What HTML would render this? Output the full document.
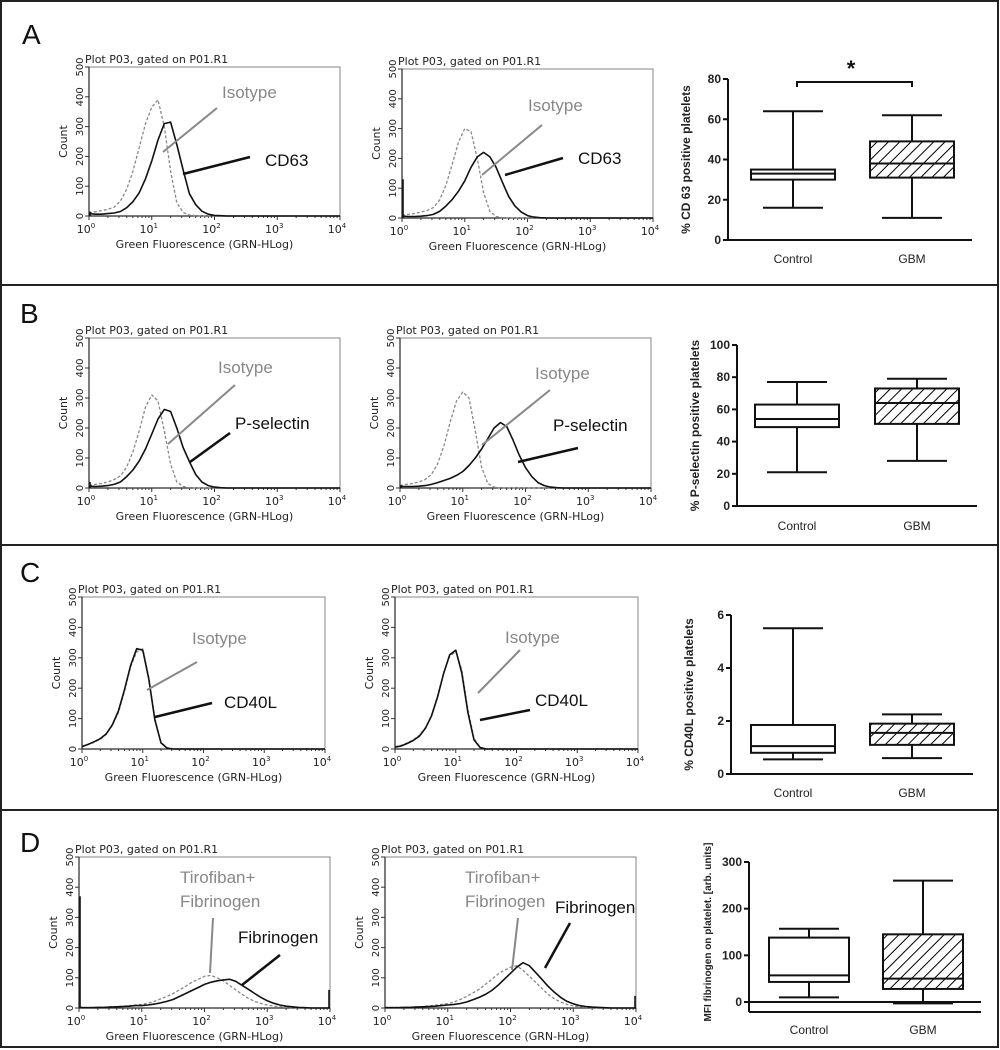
<!DOCTYPE html>
<html><head><meta charset="utf-8"><style>
html,body{margin:0;padding:0;background:#fff;}
svg{display:block;}
text{font-family:"Liberation Sans",sans-serif;}
.dv{font-family:"DejaVu Sans","Liberation Sans",sans-serif;}
</style></head><body>
<svg id="fig" width="1000" height="1050" viewBox="0 0 1000 1050" xmlns="http://www.w3.org/2000/svg">
<defs>
<pattern id="hatch" patternUnits="userSpaceOnUse" width="8" height="8" patternTransform="rotate(45)">
<line x1="0" y1="0" x2="0" y2="8" stroke="#000" stroke-width="2"/>
</pattern>
</defs>
<g fill="none" stroke="#222" stroke-width="2">
<rect x="1" y="1" width="997" height="1046"/>
<line x1="1" y1="285" x2="998" y2="285"/>
<line x1="1" y1="545" x2="998" y2="545"/>
<line x1="1" y1="810" x2="998" y2="810"/>
</g>
<g font-size="28" fill="#111">
<text x="22" y="44">A</text>
<text x="20" y="323">B</text>
<text x="20" y="582">C</text>
<text x="20" y="852">D</text>
</g>
<g id="layer"></g>
<g font-size="17">
<text x="222" y="98" fill="#888">Isotype</text>
<line x1="217" y1="108" x2="163" y2="152" stroke="#888" stroke-width="2"/>
<text x="265" y="166" fill="#111">CD63</text>
<line x1="250" y1="157" x2="183" y2="174" stroke="#111" stroke-width="2.5"/>
<text x="528" y="111" fill="#888">Isotype</text>
<line x1="542" y1="125" x2="482" y2="175" stroke="#888" stroke-width="2"/>
<text x="578" y="164" fill="#111">CD63</text>
<line x1="563" y1="158" x2="505" y2="175" stroke="#111" stroke-width="2.5"/>
<text x="218" y="373" fill="#888">Isotype</text>
<line x1="235" y1="385" x2="168" y2="444" stroke="#888" stroke-width="2"/>
<text x="235" y="429" fill="#111">P-selectin</text>
<line x1="230" y1="433" x2="190" y2="462" stroke="#111" stroke-width="2.5"/>
<text x="535" y="379" fill="#888">Isotype</text>
<line x1="550" y1="390" x2="482" y2="445" stroke="#888" stroke-width="2"/>
<text x="553" y="431" fill="#111">P-selectin</text>
<line x1="578" y1="448" x2="518" y2="462" stroke="#111" stroke-width="2.5"/>
<text x="192" y="644" fill="#888">Isotype</text>
<line x1="197" y1="662" x2="147" y2="690" stroke="#888" stroke-width="2"/>
<text x="224" y="708" fill="#111">CD40L</text>
<line x1="212" y1="703" x2="155" y2="717" stroke="#111" stroke-width="2.5"/>
<text x="505" y="643" fill="#888">Isotype</text>
<line x1="520" y1="650" x2="478" y2="693" stroke="#888" stroke-width="2"/>
<text x="535" y="706" fill="#111">CD40L</text>
<line x1="530" y1="710" x2="480" y2="720" stroke="#111" stroke-width="2.5"/>
<text x="180" y="883" fill="#888">Tirofiban+</text>
<text x="180" y="907" fill="#888">Fibrinogen</text>
<line x1="213" y1="918" x2="210" y2="973" stroke="#888" stroke-width="2"/>
<text x="238" y="943" fill="#111">Fibrinogen</text>
<line x1="280" y1="955" x2="242" y2="985" stroke="#111" stroke-width="2.5"/>
<text x="465" y="883" fill="#888">Tirofiban+</text>
<text x="465" y="907" fill="#888">Fibrinogen</text>
<line x1="518" y1="918" x2="512" y2="970" stroke="#888" stroke-width="2"/>
<text x="555" y="913" fill="#111">Fibrinogen</text>
<line x1="570" y1="923" x2="545" y2="968" stroke="#111" stroke-width="2.5"/>
</g>
</svg>
<script>
// Histogram counts sampled every 0.1 decade starting at 10^0
const A1iso=[10,14,18,22,30,50,90,150,230,310,365,390,300,150,45,12,3,1,0];
const A1pos=[8,6,6,8,10,15,28,48,78,125,185,255,310,315,240,155,75,38,16,6,2,1,0];
const A2iso=[10,12,15,20,25,35,60,110,180,255,300,290,200,85,22,5,1,0];
const A2pos=[6,5,5,6,8,12,22,40,62,90,125,170,205,220,205,170,120,72,40,20,8,3,1,0];
const B1iso=[8,12,15,20,28,40,70,120,190,270,310,290,190,80,20,5,1,0];
const B1pos=[6,5,6,8,12,20,38,60,90,130,180,230,262,255,200,135,88,45,20,8,3,1,0];
const B2iso=[8,12,15,20,28,45,80,140,220,290,320,300,190,70,15,3,0];
const B2pos=[5,5,5,6,8,12,18,25,32,42,55,75,100,130,165,200,218,205,160,110,68,38,18,8,3,1,0];
const C1iso=[10,14,22,32,48,78,120,190,270,320,330,235,100,22,4,0];
const C1pos=[8,15,24,34,50,80,125,195,275,330,325,230,95,20,3,0];
const C2iso=[8,12,20,30,45,70,110,175,250,305,320,260,130,35,6,0];
const C2pos=[6,10,18,28,42,68,108,170,248,310,325,250,120,30,5,0];
const D1iso=[2,2,2,2,3,4,5,6,8,10,12,16,22,30,38,48,60,72,85,95,105,108,100,90,75,60,45,32,22,15,10,6,4,2,1,1,0];
const D1pos=[2,1,1,2,2,3,4,5,6,8,8,10,13,17,22,28,38,48,58,68,78,85,90,93,95,88,75,62,48,35,24,16,10,6,4,2,1,0];
const D2iso=[2,2,2,2,3,4,5,7,9,12,15,20,28,38,50,62,78,95,112,125,135,140,125,105,85,65,45,30,20,12,7,4,2,1,0];
const D2pos=[1,1,1,2,2,3,4,5,6,8,10,12,15,20,27,35,45,58,75,95,115,135,150,140,118,95,72,52,35,22,14,8,5,3,2,1,0];
// edge spikes [count at 10^0, count at 10^4]
const A1spikes=[15,0], A2spikes=[130,0], B1spikes=[20,0], B2spikes=[10,0];
const C1spikes=[0,0], C2spikes=[0,0], D1spikes=[370,60], D2spikes=[0,40];
const countTicks=[0,100,200,300,400,500];
const decadeTicks=["0","1","2","3","4"];
// Box plots: [min, q1, median, q3, max]
const categories=["Control","GBM"];
const boxA_control=[16,30,33,35,64], boxA_gbm=[11,31,38,49,62];
const boxB_control=[21,49,54,63,77], boxB_gbm=[28,51,64,73,79];
const boxC_control=[0.55,0.8,1.05,1.85,5.5], boxC_gbm=[0.6,1.1,1.55,1.9,2.25];
const boxD_control=[10,43,57,138,157], boxD_gbm=[-3,28,50,145,260];
const ticksA=[0,20,40,60,80], ticksB=[0,20,40,60,80,100], ticksC=[0,2,4,6], ticksD=[0,100,200,300];

const NS="http://www.w3.org/2000/svg";
const layer=document.getElementById('layer');
function el(tag,attrs,parent){const e=document.createElementNS(NS,tag);for(const k in attrs)e.setAttribute(k,attrs[k]);(parent||layer).appendChild(e);return e;}

function hist(f,iso,pos,spikes,name){
  const g=el('g',{});
  
  
  const xs=l=>f.x0+(f.x1-f.x0)*l/4, ys=c=>f.y1-(f.y1-f.y0)*c/500;
  el('rect',{x:f.x0,y:f.y0,width:f.x1-f.x0,height:f.y1-f.y0,fill:'none',stroke:'#999','stroke-width':1.2},g);
  el('line',{x1:f.x0,y1:f.y0,x2:f.x0,y2:f.y1,stroke:'#333','stroke-width':1.2},g);
  el('line',{x1:f.x0,y1:f.y1,x2:f.x1,y2:f.y1,stroke:'#333','stroke-width':1.2},g);
  const t=el('text',{x:f.x0-4,y:f.y0-4,'font-size':11,class:'dv',fill:'#222'},g);t.textContent='Plot P03, gated on P01.R1';
  
  
  countTicks.forEach(c=>{const y=ys(c);
    el('line',{x1:f.x0-4,y1:y,x2:f.x0,y2:y,stroke:'#333'},g);
    const tt=el('text',{x:f.x0-6,y:y,'font-size':10,class:'dv',fill:'#222','text-anchor':'middle',transform:`rotate(-90 ${f.x0-6} ${y})`},g);tt.textContent=c;
    
    
  });
  const yl=el('text',{x:f.x0-22,y:(f.y0+f.y1)/2,'font-size':11,class:'dv',fill:'#222','text-anchor':'middle',transform:`rotate(-90 ${f.x0-22} ${(f.y0+f.y1)/2})`},g);yl.textContent='Count';
  
  
  for(let d=0;d<4;d++)for(let m=2;m<10;m++){const x=xs(d+Math.log10(m));el('line',{x1:x,y1:f.y1,x2:x,y2:f.y1+2,stroke:'#333'},g);}
  decadeTicks.forEach((s,i)=>{const x=xs(i);
    el('line',{x1:x,y1:f.y1,x2:x,y2:f.y1+4,stroke:'#333'},g);
    const tt=el('text',{x:x-3,y:f.y1+17,'font-size':11,class:'dv',fill:'#222','text-anchor':'middle'},g);
    tt.innerHTML='10<tspan font-size="7" dy="-5">'+s+'</tspan>';
    
    
  });
  const xl=el('text',{x:(f.x0+f.x1)/2-10,y:f.y1+32,'font-size':11,class:'dv',fill:'#222','text-anchor':'middle'},g);xl.textContent='Green Fluorescence (GRN-HLog)';
  
  
  function path(arr,color,dash,w,nm){
    let d='';for(let i=0;i<=40;i++){const v=i<arr.length?arr[i]:0;d+=(i?'L':'M')+xs(i/10).toFixed(1)+','+ys(v).toFixed(1);}
    const p=el('path',{d:d,fill:'none',stroke:color,'stroke-width':w,'stroke-dasharray':dash,'stroke-linejoin':'round'},g);
    
    
  }
  path(iso,'#888','3,2',1.3,'isotype-curve');
  path(pos,'#111','none',1.6,'marker-curve');
  [0,4].forEach((l,i)=>{if(spikes[i]>0){
    const s=el('line',{x1:xs(l)+(i?-1:1),y1:f.y1,x2:xs(l)+(i?-1:1),y2:ys(spikes[i]),stroke:'#111','stroke-width':1.6},g);
    
    
  }});
}
hist({x0:89,x1:340,y0:67,y1:216},A1iso,A1pos,A1spikes,'histogram-a-control');
hist({x0:402,x1:653,y0:69,y1:218},A2iso,A2pos,A2spikes,'histogram-a-gbm');
hist({x0:89,x1:340,y0:338,y1:488},B1iso,B1pos,B1spikes,'histogram-b-control');
hist({x0:400,x1:651,y0:338,y1:488},B2iso,B2pos,B2spikes,'histogram-b-gbm');
hist({x0:82,x1:325,y0:597,y1:749},C1iso,C1pos,C1spikes,'histogram-c-control');
hist({x0:395,x1:638,y0:597,y1:749},C2iso,C2pos,C2spikes,'histogram-c-gbm');
hist({x0:79,x1:330,y0:857,y1:1008},D1iso,D1pos,D1spikes,'histogram-d-control');
hist({x0:385,x1:636,y0:857,y1:1008},D2iso,D2pos,D2spikes,'histogram-d-gbm');

function boxplot(c,ticks,ctrl,gbm,title,name){
  const g=el('g',{});
  
  
  const lo=ticks[0],hi=ticks[ticks.length-1];
  const ys=v=>c.yb-(c.yb-c.yt)*(v-lo)/(hi-lo);
  el('line',{x1:c.ax,y1:c.yt,x2:c.ax,y2:c.axisY||c.yb,stroke:'#111','stroke-width':2},g);
  el('line',{x1:c.ax,y1:c.axisY||c.yb,x2:c.xr,y2:c.axisY||c.yb,stroke:'#111','stroke-width':2},g);
  if(c.axisY)el('line',{x1:c.ax,y1:ys(0),x2:c.xr,y2:ys(0),stroke:'#111','stroke-width':2},g);
  ticks.forEach(t=>{const y=ys(t);el('line',{x1:c.ax-5,y1:y,x2:c.ax,y2:y,stroke:'#111','stroke-width':2},g);
    const tt=el('text',{x:c.ax-7,y:y+4,'font-size':12,'font-weight':'bold',fill:'#222','text-anchor':'end'},g);tt.textContent=t;
    
    });
  const my=(c.yt+c.yb)/2, tx=c.ax-38;
  const yt=el('text',{x:tx,y:my,'font-size':c.fs||12,'font-weight':'bold',fill:'#222','text-anchor':'middle',transform:`rotate(-90 ${tx} ${my})`},g);yt.textContent=title;
  
  
  [ctrl,gbm].forEach((b,i)=>{
    const cx=c.cx[i],hw=c.hw;
    const bg=el('g',{},g);
    
    
    el('line',{x1:cx,y1:ys(b[0]),x2:cx,y2:ys(b[1]),stroke:'#111','stroke-width':2},bg);
    el('line',{x1:cx,y1:ys(b[3]),x2:cx,y2:ys(b[4]),stroke:'#111','stroke-width':2},bg);
    el('line',{x1:cx-30,y1:ys(b[0]),x2:cx+30,y2:ys(b[0]),stroke:'#111','stroke-width':2},bg);
    el('line',{x1:cx-30,y1:ys(b[4]),x2:cx+30,y2:ys(b[4]),stroke:'#111','stroke-width':2},bg);
    el('rect',{x:cx-hw,y:ys(b[3]),width:2*hw,height:ys(b[1])-ys(b[3]),fill:i?'url(#hatch)':'#fff',stroke:'#111','stroke-width':2},bg);
    el('line',{x1:cx-hw,y1:ys(b[2]),x2:cx+hw,y2:ys(b[2]),stroke:'#111','stroke-width':2},bg);
    const lt=el('text',{x:cx,y:c.ly,'font-size':12,fill:'#222','text-anchor':'middle'},g);lt.textContent=categories[i];
    
    
  });
}
boxplot({ax:728,xr:972,yt:79,yb:240,cx:[793,912],hw:42,ly:263},ticksA,boxA_control,boxA_gbm,'% CD 63 positive platelets','boxplot-cd63');
boxplot({ax:737,xr:977,yt:345,yb:506,cx:[797,917],hw:42,ly:530},ticksB,boxB_control,boxB_gbm,'% P-selectin positive platelets','boxplot-p-selectin');
boxplot({ax:731,xr:973,yt:615,yb:774,cx:[793,912],hw:42,ly:797},ticksC,boxC_control,boxC_gbm,'% CD40L positive platelets','boxplot-cd40l');
boxplot({ax:749,xr:981,yt:862,yb:1002,axisY:1012,cx:[809,923],hw:40,ly:1034,fs:10},ticksD,boxD_control,boxD_gbm,'MFI fibrinogen on platelet. [arb. units]','boxplot-fibrinogen');
const br=el('path',{d:'M797,87 L797,82 L912,82 L912,87',fill:'none',stroke:'#111','stroke-width':2});


const st=el('text',{x:851,y:76,'font-size':22,'font-weight':'bold',fill:'#111','text-anchor':'middle'});st.textContent='*';


</script>
</body></html>
